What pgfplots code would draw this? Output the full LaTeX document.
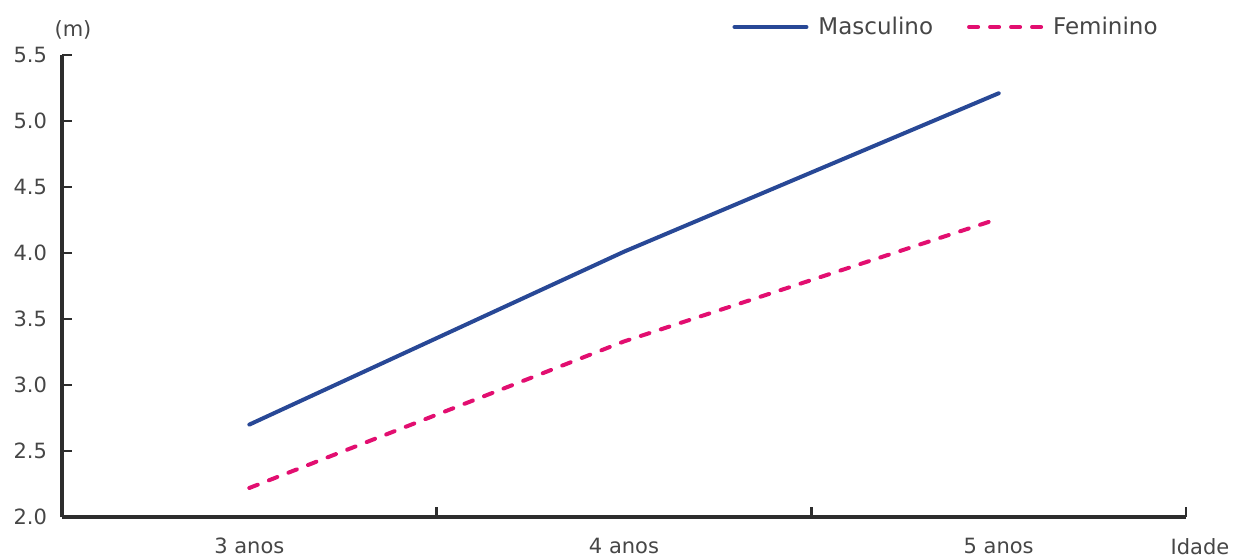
\documentclass[border=0pt]{standalone}
\usepackage{pgfplots}
\pgfplotsset{compat=1.18}
\usepackage{fontspec}
\setmainfont{DejaVu Sans}
\definecolor{masc}{RGB}{40,72,150}
\definecolor{fem}{RGB}{226,14,112}
\definecolor{axisgray}{RGB}{45,45,45}
\definecolor{textgray}{RGB}{70,70,70}
\begin{document}
\begin{tikzpicture}
\begin{axis}[
  scale only axis, width=562pt, height=231pt,
  xmin=0, xmax=3, ymin=2, ymax=5.5,
  clip=false,
  axis lines=left,
  axis line style={axisgray, line width=1.7pt, -},
  xtick={0,1,2,3}, x tick label as interval,
  xticklabels={3 anos,4 anos,5 anos},
  ytick={2,2.5,3,3.5,4,4.5,5,5.5},
  tick align=inside, major tick length=5pt,
  tick style={axisgray, line width=1.3pt},
  /pgf/number format/assume math mode=true,
  /pgf/number format/.cd, fixed, fixed zerofill, precision=1, /pgfplots/.cd,
  ticklabel style={font=\fontsize{10.5}{12}\selectfont, text=textgray},
  yticklabel style={xshift=-4pt},
  xticklabel style={yshift=-7pt},
  legend style={at={(rel axis cs:1,1)}, anchor=east, xshift=-12pt, yshift=14pt,
    draw=none, fill=none, font=\fontsize{11.5}{13}\selectfont, text=textgray,
    legend columns=2, inner sep=0pt, nodes={inner sep=2pt},
    /tikz/every even column/.append style={column sep=15pt}},
  legend image code/.code={\draw[#1] (0pt,0pt) -- (36pt,0pt); \path[draw=none] (0pt,0pt) -- (40pt,0pt);},
]
\addplot[masc, line width=2pt, line cap=round] coordinates {(0.5,2.70) (1.5,4.01) (2.5,5.21)};
\addlegendentry{Masculino}
\addplot[fem, line width=2pt, line cap=round, dash pattern=on 4.5pt off 6pt] coordinates {(0.5,2.22) (1.5,3.33) (2.5,4.26)};
\addlegendentry{Feminino}
\node[anchor=north, inner sep=0pt, font=\fontsize{10.5}{12}\selectfont, text=textgray] at (rel axis cs:1,0) [xshift=7pt, yshift=-10.5pt] {Idade};
\node[anchor=south, inner sep=0pt, font=\fontsize{10.5}{12}\selectfont, text=textgray] at (rel axis cs:0,1) [xshift=5.5pt, yshift=7.5pt] {(m)};
\end{axis}
\pgfresetboundingbox
\path (current axis.south west) ++(-31pt,-20pt) coordinate (a);
\path (current axis.north east) ++(25.5pt,27.5pt) coordinate (b);
\path[use as bounding box] (a) rectangle (b);
\end{tikzpicture}
\end{document}
